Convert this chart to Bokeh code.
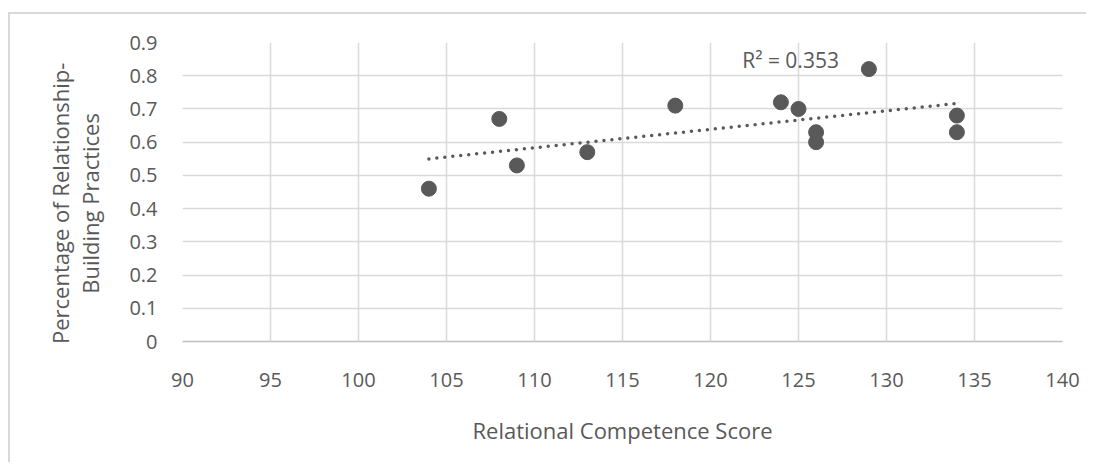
import numpy as np
from bokeh.plotting import figure
from bokeh.models import Range1d, FixedTicker, CustomJSTickFormatter, Label
from bokeh.embed import file_html
from bokeh.resources import INLINE

# ---- data ----
scores = [104, 108, 109, 113, 118, 124, 125, 126, 126, 129, 134, 134]
percentages = [0.46, 0.67, 0.53, 0.57, 0.71, 0.72, 0.70, 0.63, 0.60, 0.82, 0.68, 0.63]
x_ticks = [90, 95, 100, 105, 110, 115, 120, 125, 130, 135, 140]
y_ticks = [0, 0.1, 0.2, 0.3, 0.4, 0.5, 0.6, 0.7, 0.8, 0.9]
x_title = "Relational Competence Score"
y_title_lines = ["Percentage of Relationship-", "Building Practices"]
r2_text = "R\u00b2 = 0.353"

FONT = "Open Sans"
TXT = "#595959"
GRID = "#d9d9d9"
MARK = "#595959"

p = figure(width=1078, height=450, output_backend="svg", toolbar_location=None,
           x_range=Range1d(x_ticks[0], x_ticks[-1]), y_range=Range1d(y_ticks[0], y_ticks[-1]),
           min_border_left=172, min_border_top=28, min_border_right=26, min_border_bottom=123,
           background_fill_color="white", border_fill_color="white",
           styles={"margin-top": "12px", "margin-left": "8px",
                   "border-top": "2px solid #d9d9d9",
                   "border-left": "2px solid #d9d9d9"})
p.outline_line_color = None

# grids
p.xgrid.ticker = FixedTicker(ticks=x_ticks)
p.ygrid.ticker = FixedTicker(ticks=y_ticks)
for g in (p.xgrid, p.ygrid):
    g.grid_line_color = GRID
    g.grid_line_width = 1.5

# x axis
xa = p.xaxis[0]
xa.ticker = FixedTicker(ticks=x_ticks)
xa.axis_line_color = "#bfbfbf"
xa.axis_line_width = 1.5
xa.major_tick_line_color = None
xa.minor_tick_line_color = None
xa.major_tick_out = 0
xa.major_tick_in = 0
xa.major_label_standoff = 31
xa.major_label_text_font = FONT
xa.major_label_text_font_size = "20px"
xa.major_label_text_color = TXT
xa.axis_label = x_title
xa.axis_label_text_font = FONT
xa.axis_label_text_font_size = "22px"
xa.axis_label_text_font_style = "normal"
xa.axis_label_text_color = TXT
xa.axis_label_standoff = 25

# y axis
ya = p.yaxis[0]
ya.ticker = FixedTicker(ticks=y_ticks)
ya.formatter = CustomJSTickFormatter(code="return (Math.round(tick*10)/10).toString();")
ya.axis_line_color = None
ya.major_tick_line_color = None
ya.minor_tick_line_color = None
ya.major_tick_out = 0
ya.major_tick_in = 0
ya.major_label_standoff = 25
ya.major_label_text_font = FONT
ya.major_label_text_font_size = "20px"
ya.major_label_text_color = TXT
pad = "\u00a0" * 4
ya.axis_label = "\n".join(line + pad for line in y_title_lines)
ya.axis_label_text_font = FONT
ya.axis_label_text_font_size = "22px"
ya.axis_label_text_font_style = "normal"
ya.axis_label_text_color = TXT
ya.axis_label_text_line_height = 1.0
ya.axis_label_text_align = "center"
ya.axis_label_standoff = 21

# trendline (least squares fit of the data)
xs = np.array(scores, dtype=float)
ys = np.array(percentages, dtype=float)
slope, intercept = np.polyfit(xs, ys, 1)
tx = [xs.min(), xs.max()]
ty = [slope * v + intercept for v in tx]
p.line(tx, ty, line_color=MARK, line_width=3.5, line_dash="0 8", line_cap="round")

# points
p.scatter(scores, percentages, size=15, fill_color=MARK, line_color=MARK)

# R^2 label
p.add_layout(Label(x=121.8, y=0.846, text=r2_text, text_font=FONT, text_font_size="21px",
                   text_color=TXT, text_baseline="alphabetic"))

open("out.html", "w").write(file_html(p, INLINE))
